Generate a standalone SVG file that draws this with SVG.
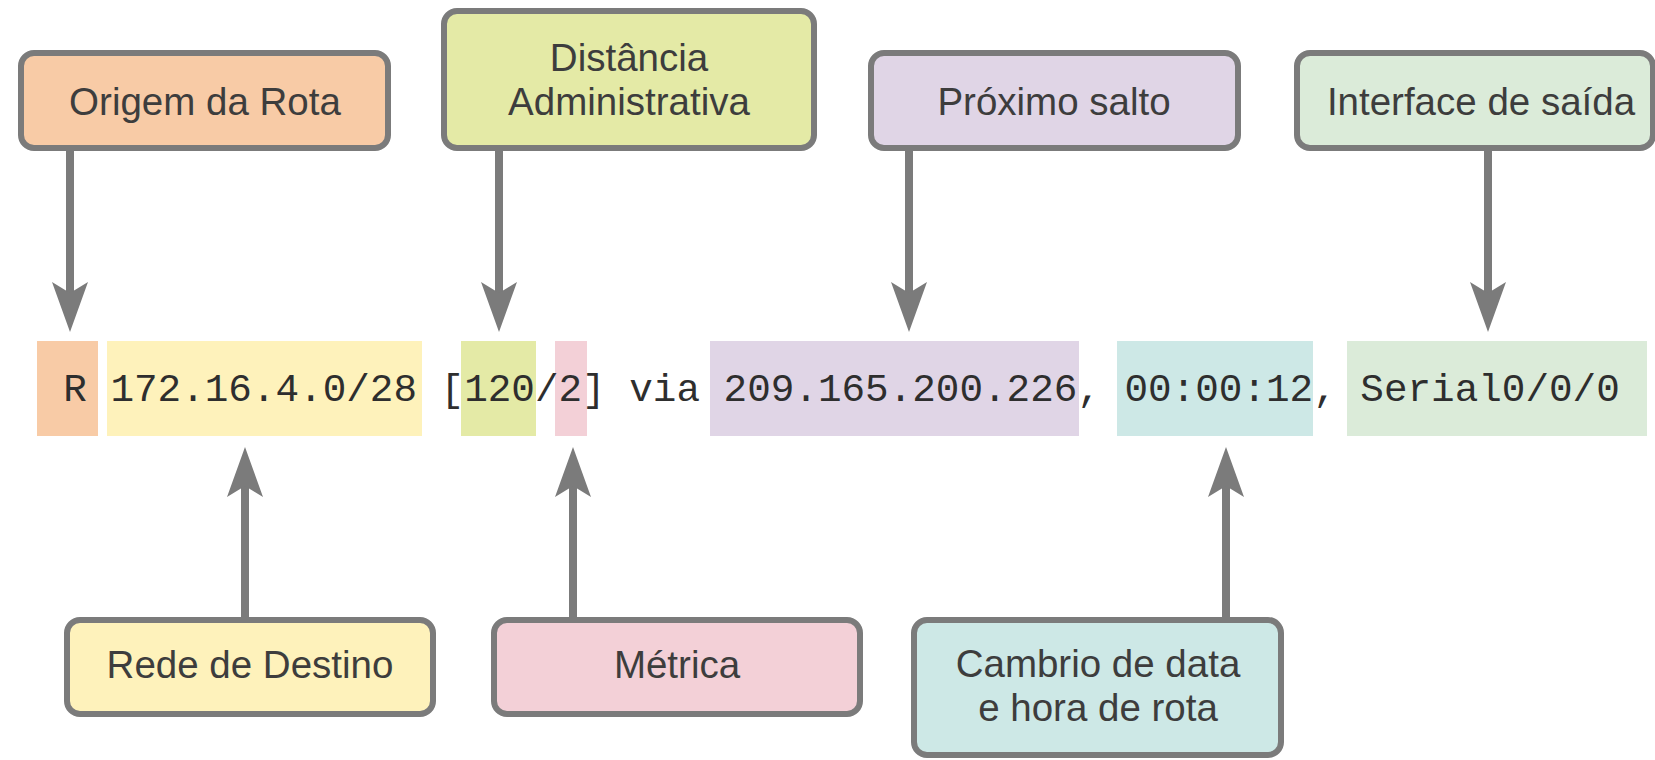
<svg xmlns="http://www.w3.org/2000/svg" width="1655" height="760" viewBox="0 0 1655 760">
  <style>
    .box { stroke: #7b7b7b; stroke-width: 6; }
    .lbl { font-family: "Liberation Sans", Arial, sans-serif; font-size: 38.5px; fill: #3d3d3d; text-anchor: middle; }
    .cmd { font-family: "Liberation Mono", "Courier New", monospace; font-size: 39.3px; fill: #2e2e2e; }
    .conn { stroke: #7b7b7b; stroke-width: 8; fill: none; marker-end: url(#arrow); }
  </style>
  <defs>
    <marker id="arrow" viewBox="0 0 50 36" refX="11" refY="18" markerWidth="50" markerHeight="36" markerUnits="userSpaceOnUse" orient="auto">
      <path d="M0,0 L50,18 L0,36 L11,18 Z" fill="#7b7b7b"/>
    </marker>
  </defs>
  <rect width="1655" height="760" fill="#ffffff"/>

  <g id="command-line">
    <rect x="37" y="341" width="61" height="95" fill="#f8cba6"/>
    <rect x="107" y="341" width="315" height="95" fill="#fef2bb"/>
    <rect x="461" y="341" width="75" height="95" fill="#e4eaa6"/>
    <rect x="555" y="341" width="32" height="95" fill="#f3d0d7"/>
    <rect x="710" y="341" width="369" height="95" fill="#e0d5e6"/>
    <rect x="1117" y="341" width="196" height="95" fill="#cde8e6"/>
    <rect x="1347" y="341" width="300" height="95" fill="#dbebd9"/>
    <text class="cmd" x="63.3" y="401" xml:space="preserve">R 172.16.4.0/28 [120/2] via 209.165.200.226, 00:00:12, Serial0/0/0</text>
  </g>

  <g id="connectors">
    <line class="conn" x1="70" y1="151" x2="70" y2="293"/>
    <line class="conn" x1="499" y1="151" x2="499" y2="293"/>
    <line class="conn" x1="909" y1="151" x2="909" y2="293"/>
    <line class="conn" x1="1488" y1="151" x2="1488" y2="293"/>
    <line class="conn" x1="245" y1="617" x2="245" y2="486"/>
    <line class="conn" x1="573" y1="617" x2="573" y2="486"/>
    <line class="conn" x1="1226" y1="617" x2="1226" y2="486"/>
  </g>

  <g id="origem-da-rota">
    <rect class="box" x="21" y="53" width="367" height="95" rx="13" fill="#f8cba6"/>
    <text class="lbl" x="205" y="115">Origem da Rota</text>
  </g>
  <g id="distancia-administrativa">
    <rect class="box" x="444" y="11" width="370" height="137" rx="13" fill="#e4eaa6"/>
    <text class="lbl" x="629" y="71">Distância</text>
    <text class="lbl" x="629" y="115">Administrativa</text>
  </g>
  <g id="proximo-salto">
    <rect class="box" x="871" y="53" width="367" height="95" rx="13" fill="#e0d5e6"/>
    <text class="lbl" x="1054" y="115">Próximo salto</text>
  </g>
  <g id="interface-de-saida">
    <rect class="box" x="1297" y="53" width="356" height="95" rx="13" fill="#dbebd9"/>
    <text class="lbl" x="1481" y="115">Interface de saída</text>
  </g>
  <g id="rede-de-destino">
    <rect class="box" x="67" y="620" width="366" height="94" rx="13" fill="#fef2bb"/>
    <text class="lbl" x="250" y="678">Rede de Destino</text>
  </g>
  <g id="metrica">
    <rect class="box" x="494" y="620" width="366" height="94" rx="13" fill="#f3d0d7"/>
    <text class="lbl" x="677" y="678">Métrica</text>
  </g>
  <g id="cambrio">
    <rect class="box" x="914" y="620" width="367" height="135" rx="13" fill="#cde8e6"/>
    <text class="lbl" x="1098" y="677">Cambrio de data</text>
    <text class="lbl" x="1098" y="721">e hora de rota</text>
  </g>
</svg>
